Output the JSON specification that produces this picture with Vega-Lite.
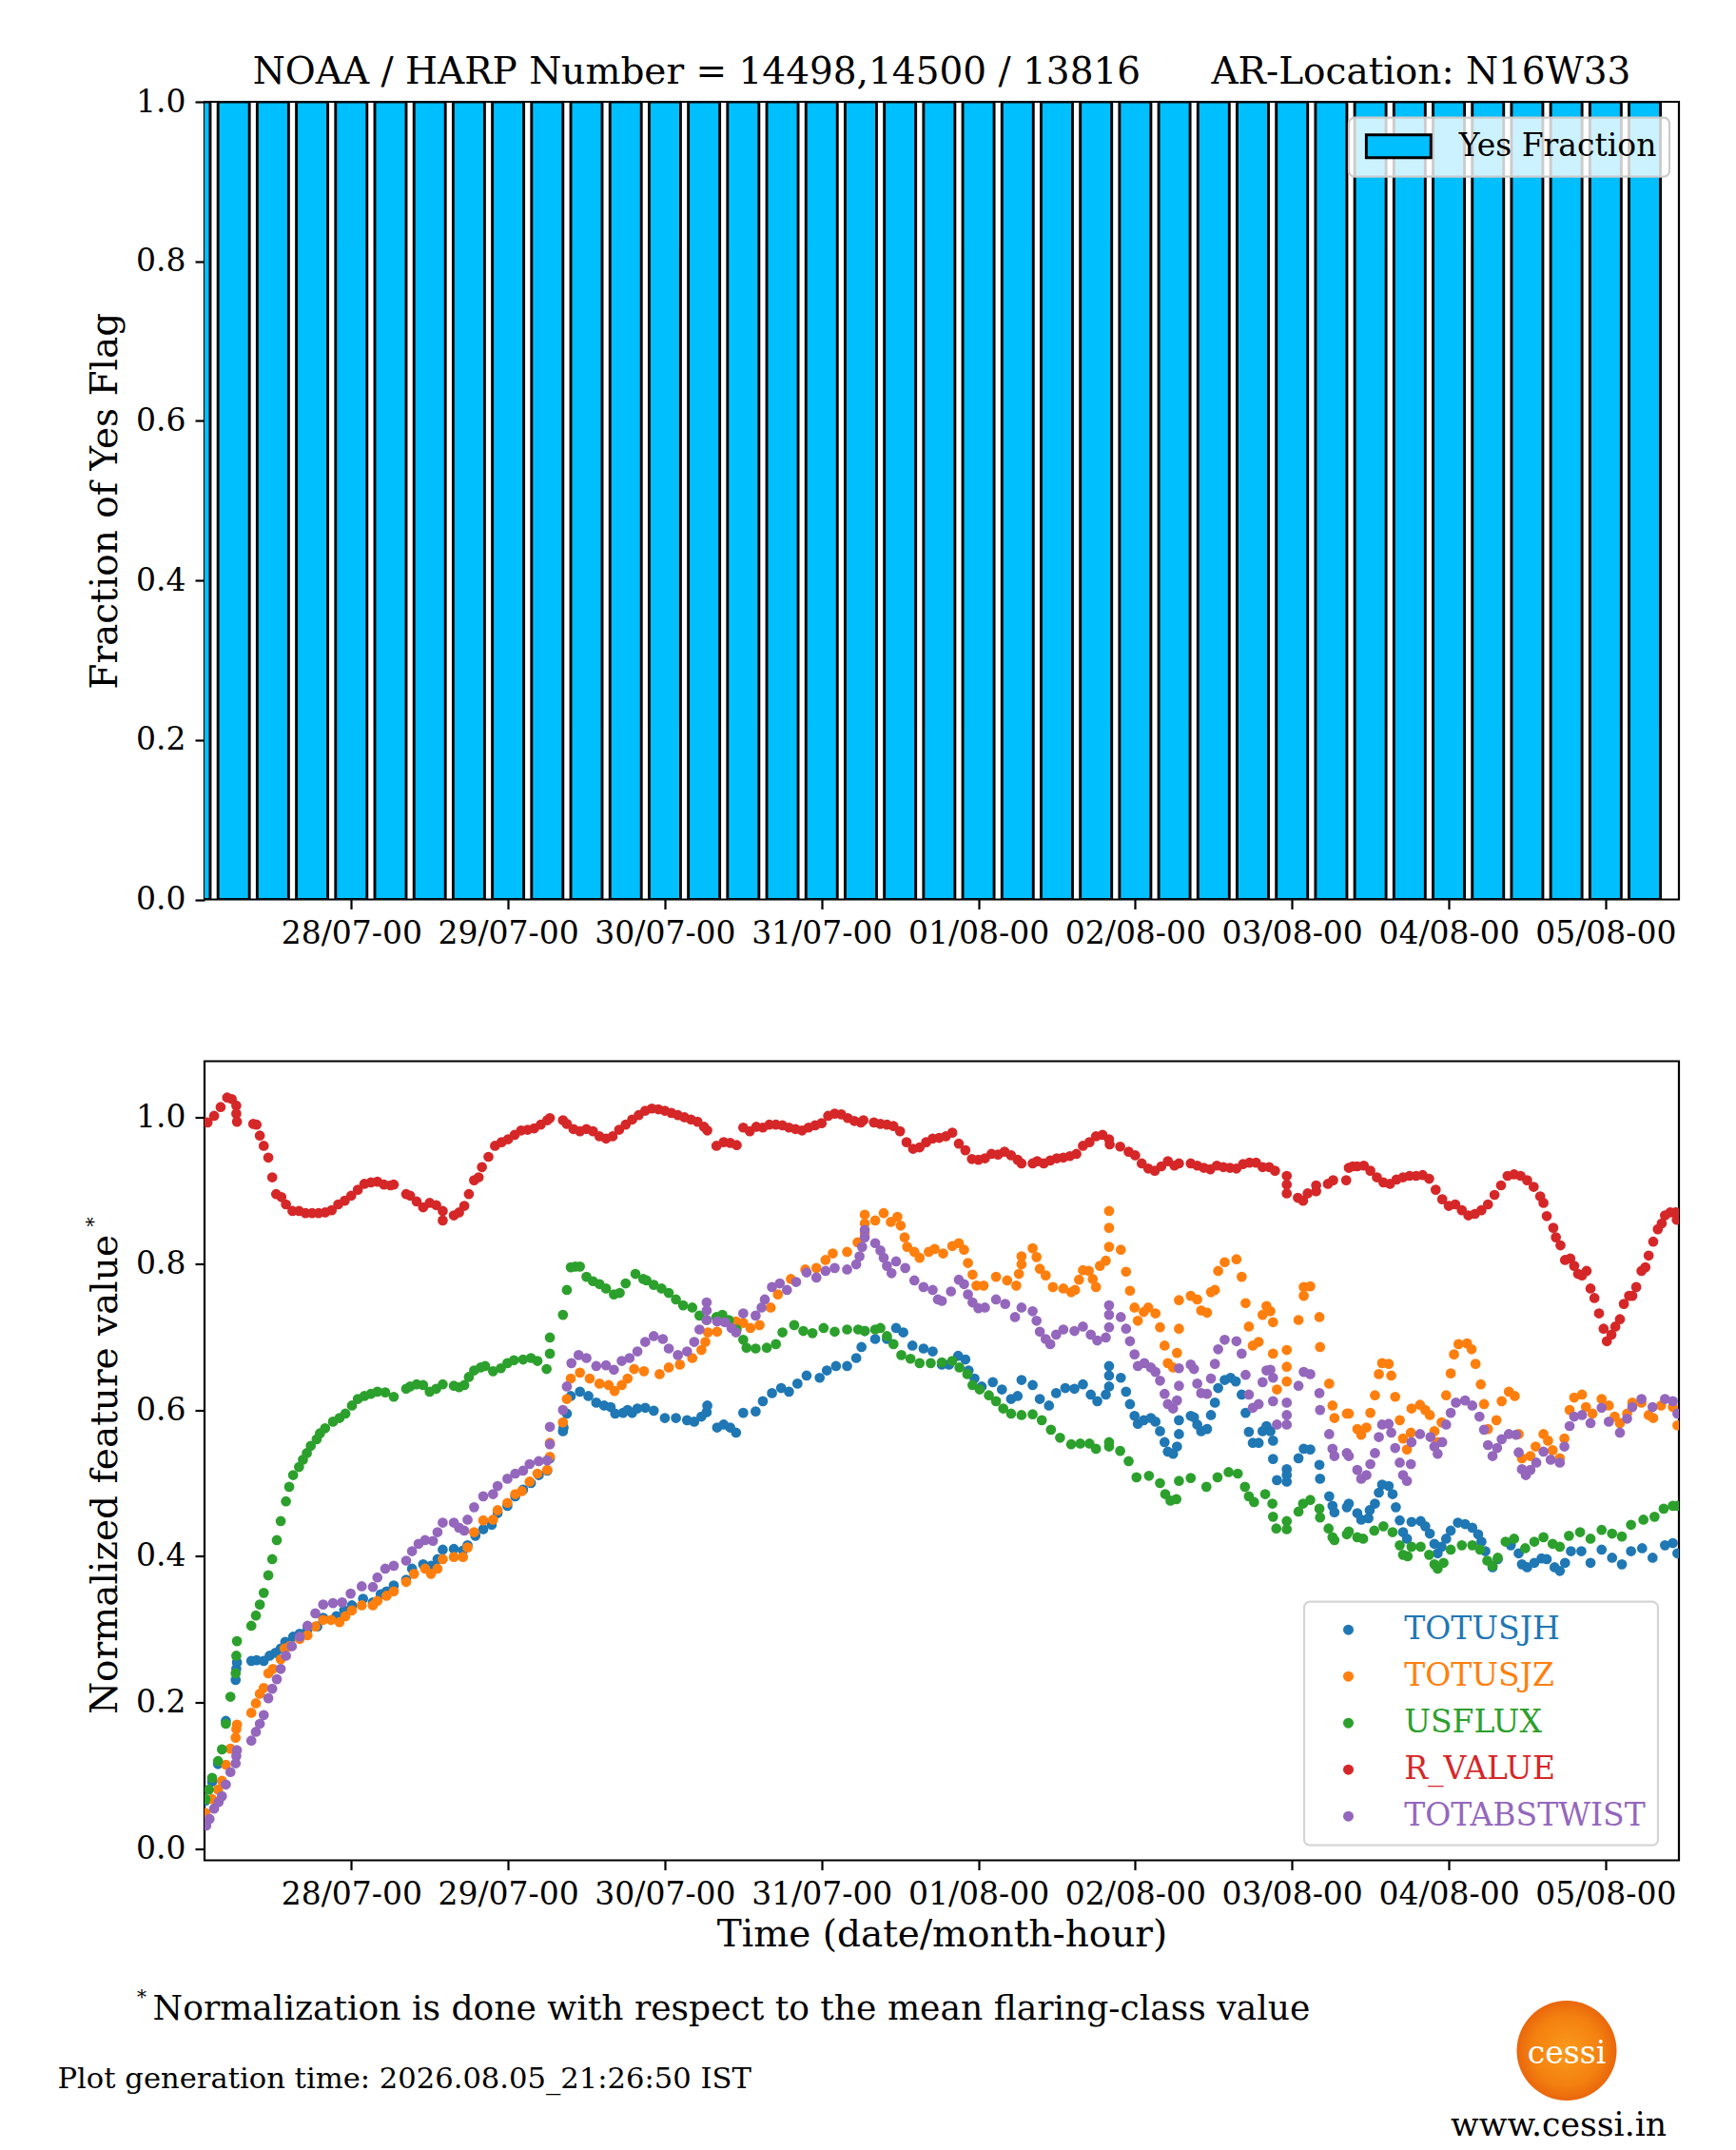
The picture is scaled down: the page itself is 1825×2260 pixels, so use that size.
{
"$schema":"https://vega.github.io/schema/vega-lite/v6.json",
"description":"Yes-flag fraction and normalized SHARP features for NOAA 14498,14500",
"padding":{"left":60,"top":55,"right":0,"bottom":0},
"spacing":169.5,
"bounds":"flush",
"config":{
"font":"DejaVu Serif",
"view":{"stroke":"#000","strokeWidth":2.2},
"axis":{"grid":false,"domain":false,"labelFont":"DejaVu Serif","titleFont":"DejaVu Serif","labelFontSize":33,"titleFontSize":39,"titleFontWeight":"normal","labelColor":"#000","titleColor":"#000","tickColor":"#000","tickSize":10,"tickWidth":2.2,"labelPadding":10},
"legend":{"labelFont":"DejaVu Serif","labelFontSize":33,"labelLimit":500,"labelColor":"#000","strokeWidth":2.2}
},
"datasets":{
"bars":[{"t":"2607270000","f":1},{"t":"2607270600","f":1},{"t":"2607271200","f":1},{"t":"2607271800","f":1},{"t":"2607280000","f":1},{"t":"2607280600","f":1},{"t":"2607281200","f":1},{"t":"2607281800","f":1},{"t":"2607290000","f":1},{"t":"2607290600","f":1},{"t":"2607291200","f":1},{"t":"2607291800","f":1},{"t":"2607300000","f":1},{"t":"2607300600","f":1},{"t":"2607301200","f":1},{"t":"2607301800","f":1},{"t":"2607310000","f":1},{"t":"2607310600","f":1},{"t":"2607311200","f":1},{"t":"2607311800","f":1},{"t":"2608010000","f":1},{"t":"2608010600","f":1},{"t":"2608011200","f":1},{"t":"2608011800","f":1},{"t":"2608020000","f":1},{"t":"2608020600","f":1},{"t":"2608021200","f":1},{"t":"2608021800","f":1},{"t":"2608030000","f":1},{"t":"2608030600","f":1},{"t":"2608031200","f":1},{"t":"2608031800","f":1},{"t":"2608040000","f":1},{"t":"2608040600","f":1},{"t":"2608041200","f":1},{"t":"2608041800","f":1},{"t":"2608050000","f":1},{"t":"2608050600","f":1}],
"jh":[{"t":"2607270142","v":0.066},{"t":"2607270242","v":0.092},{"t":"2607270336","v":0.116},{"t":"2607270448","v":0.175},{"t":"2607270618","v":0.231},{"t":"2607270624","v":0.246},{"t":"2607270630","v":0.255},
{"t":"2607270842","v":0.257},{"t":"2607270930","v":0.258},{"t":"2607271036","v":0.257},{"t":"2607271130","v":0.264},{"t":"2607271224","v":0.268},{"t":"2607271312","v":0.274},{"t":"2607271354","v":0.283},{"t":"2607271506","v":0.29},{"t":"2607271606","v":0.294},{"t":"2607271718","v":0.3},{"t":"2607271848","v":0.304},{"t":"2607271942","v":0.316},{"t":"2607272142","v":0.318},{"t":"2607272254","v":0.326},{"t":"2607280006","v":0.333},{"t":"2607280148","v":0.342},{"t":"2607280318","v":0.337},{"t":"2607280430","v":0.348},{"t":"2607280524","v":0.352},{"t":"2607280630","v":0.36},
{"t":"2607280824","v":0.368},{"t":"2607280918","v":0.383},{"t":"2607281100","v":0.389},{"t":"2607281212","v":0.387},{"t":"2607281312","v":0.396},{"t":"2607281400","v":0.409},
{"t":"2607281542","v":0.41},{"t":"2607281706","v":0.408},{"t":"2607281748","v":0.415},{"t":"2607281900","v":0.428},{"t":"2607282012","v":0.437},{"t":"2607282130","v":0.443},{"t":"2607282224","v":0.459},{"t":"2607282354","v":0.469},{"t":"2607290106","v":0.482},{"t":"2607290218","v":0.491},{"t":"2607290330","v":0.5},{"t":"2607290442","v":0.511},{"t":"2607290600","v":0.517},{"t":"2607290624","v":0.534},
{"t":"2607290824","v":0.571},{"t":"2607290830","v":0.576},{"t":"2607290900","v":0.595},{"t":"2607290936","v":0.619},{"t":"2607291100","v":0.625},{"t":"2607291218","v":0.619},{"t":"2607291330","v":0.61},{"t":"2607291442","v":0.606},{"t":"2607291542","v":0.604},{"t":"2607291624","v":0.595},{"t":"2607291736","v":0.596},{"t":"2607291818","v":0.6},{"t":"2607291900","v":0.596},{"t":"2607291948","v":0.602},{"t":"2607292100","v":0.603},{"t":"2607292218","v":0.599},{"t":"2607300000","v":0.589},{"t":"2607300142","v":0.589},{"t":"2607300324","v":0.586},{"t":"2607300430","v":0.584},{"t":"2607300536","v":0.591},{"t":"2607300624","v":0.597},{"t":"2607300630","v":0.606},
{"t":"2607300800","v":0.576},{"t":"2607300900","v":0.58},{"t":"2607301000","v":0.576},{"t":"2607301054","v":0.569},
{"t":"2607301200","v":0.596},{"t":"2607301354","v":0.598},{"t":"2607301500","v":0.612},{"t":"2607301624","v":0.623},{"t":"2607301748","v":0.63},{"t":"2607301900","v":0.625},{"t":"2607302018","v":0.636},{"t":"2607302142","v":0.647},{"t":"2607302342","v":0.644},{"t":"2607310048","v":0.654},{"t":"2607310212","v":0.66},{"t":"2607310354","v":0.66},{"t":"2607310518","v":0.671},{"t":"2607310606","v":0.686},{"t":"2607310636","v":0.708},
{"t":"2607310812","v":0.697},{"t":"2607311000","v":0.697},{"t":"2607311124","v":0.712},{"t":"2607311230","v":0.706},{"t":"2607311354","v":0.688},{"t":"2607311536","v":0.684},{"t":"2607311700","v":0.68},{"t":"2607311824","v":0.662},{"t":"2607311930","v":0.662},{"t":"2607312054","v":0.674},{"t":"2607312200","v":0.669},{"t":"2607312230","v":0.654},{"t":"2607312324","v":0.643},{"t":"2608010030","v":0.632},{"t":"2608010212","v":0.638},{"t":"2608010336","v":0.628},{"t":"2608010500","v":0.615},{"t":"2608010600","v":0.619},{"t":"2608010636","v":0.641},
{"t":"2608010818","v":0.634},{"t":"2608010924","v":0.615},{"t":"2608011048","v":0.606},{"t":"2608011154","v":0.623},{"t":"2608011318","v":0.63},{"t":"2608011442","v":0.629},{"t":"2608011600","v":0.635},{"t":"2608011712","v":0.621},{"t":"2608011812","v":0.612},{"t":"2608011930","v":0.621},{"t":"2608012000","v":0.632},{"t":"2608012000","v":0.647},{"t":"2608012000","v":0.66},
{"t":"2608012148","v":0.644},{"t":"2608012236","v":0.625},{"t":"2608012312","v":0.608},{"t":"2608012354","v":0.592},{"t":"2608020024","v":0.581},{"t":"2608020118","v":0.586},{"t":"2608020224","v":0.589},{"t":"2608020306","v":0.584},{"t":"2608020348","v":0.571},{"t":"2608020430","v":0.556},{"t":"2608020500","v":0.543},{"t":"2608020548","v":0.54},{"t":"2608020624","v":0.55},{"t":"2608020642","v":0.567},{"t":"2608020642","v":0.586},
{"t":"2608020830","v":0.592},{"t":"2608020900","v":0.59},{"t":"2608020930","v":0.58},{"t":"2608021006","v":0.571},{"t":"2608021100","v":0.574},{"t":"2608021136","v":0.593},{"t":"2608021212","v":0.61},{"t":"2608021242","v":0.63},{"t":"2608021342","v":0.641},{"t":"2608021436","v":0.644},{"t":"2608021524","v":0.639},{"t":"2608021618","v":0.621},{"t":"2608021654","v":0.596},{"t":"2608021724","v":0.57},{"t":"2608021800","v":0.555},{"t":"2608021854","v":0.555},{"t":"2608021930","v":0.571},{"t":"2608022006","v":0.578},{"t":"2608022042","v":0.571},{"t":"2608022106","v":0.558},{"t":"2608022106","v":0.533},{"t":"2608022142","v":0.504},
{"t":"2608022312","v":0.519},{"t":"2608022312","v":0.511},{"t":"2608022312","v":0.502},
{"t":"2608030100","v":0.534},{"t":"2608030148","v":0.547},{"t":"2608030248","v":0.546},{"t":"2608030412","v":0.525},{"t":"2608030418","v":0.506},{"t":"2608030542","v":0.482},{"t":"2608030612","v":0.469},{"t":"2608030630","v":0.46},
{"t":"2608030824","v":0.467},{"t":"2608030842","v":0.472},{"t":"2608031000","v":0.459},{"t":"2608031036","v":0.45},{"t":"2608031142","v":0.452},{"t":"2608031154","v":0.463},{"t":"2608031242","v":0.472},{"t":"2608031318","v":0.487},{"t":"2608031348","v":0.498},{"t":"2608031448","v":0.496},{"t":"2608031524","v":0.485},{"t":"2608031554","v":0.467},{"t":"2608031630","v":0.449},{"t":"2608031700","v":0.433},{"t":"2608031736","v":0.424},{"t":"2608031818","v":0.447},{"t":"2608031942","v":0.448},{"t":"2608032024","v":0.441},{"t":"2608032106","v":0.431},{"t":"2608032148","v":0.417},{"t":"2608032218","v":0.404},{"t":"2608032254","v":0.413},{"t":"2608032336","v":0.424},{"t":"2608040018","v":0.435},{"t":"2608040124","v":0.446},{"t":"2608040230","v":0.444},{"t":"2608040336","v":0.439},{"t":"2608040430","v":0.43},{"t":"2608040500","v":0.42},{"t":"2608040536","v":0.407},{"t":"2608040642","v":0.385},{"t":"2608040730","v":0.396},{"t":"2608040930","v":0.415},{"t":"2608041042","v":0.404},{"t":"2608041112","v":0.389},{"t":"2608041200","v":0.385},{"t":"2608041306","v":0.391},{"t":"2608041412","v":0.397},{"t":"2608041500","v":0.396},{"t":"2608041612","v":0.385},{"t":"2608041700","v":0.38},{"t":"2608041748","v":0.391},{"t":"2608041842","v":0.407},{"t":"2608042018","v":0.407},{"t":"2608042142","v":0.391},{"t":"2608042324","v":0.409},{"t":"2608050100","v":0.398},{"t":"2608050230","v":0.389},{"t":"2608050354","v":0.407},{"t":"2608050536","v":0.411},{"t":"2608050712","v":0.398},{"t":"2608050906","v":0.415},{"t":"2608051018","v":0.418},{"t":"2608051100","v":0.404}],
"jz":[{"t":"2607270142","v":0.049},{"t":"2607270242","v":0.068},{"t":"2607270336","v":0.081},{"t":"2607270412","v":0.093},{"t":"2607270448","v":0.115},{"t":"2607270530","v":0.137},{"t":"2607270618","v":0.152},{"t":"2607270624","v":0.164},{"t":"2607270630","v":0.17},
{"t":"2607270842","v":0.186},{"t":"2607270924","v":0.199},{"t":"2607271000","v":0.212},{"t":"2607271036","v":0.22},{"t":"2607271118","v":0.24},{"t":"2607271200","v":0.246},{"t":"2607271312","v":0.259},{"t":"2607271348","v":0.274},{"t":"2607271436","v":0.277},{"t":"2607271606","v":0.287},{"t":"2607271718","v":0.292},{"t":"2607271830","v":0.304},{"t":"2607271942","v":0.313},{"t":"2607272054","v":0.313},{"t":"2607272212","v":0.31},{"t":"2607272306","v":0.318},{"t":"2607280006","v":0.326},{"t":"2607280136","v":0.333},{"t":"2607280318","v":0.333},{"t":"2607280400","v":0.339},{"t":"2607280524","v":0.346},{"t":"2607280630","v":0.352},
{"t":"2607280824","v":0.365},{"t":"2607280936","v":0.376},{"t":"2607281118","v":0.383},{"t":"2607281212","v":0.376},{"t":"2607281312","v":0.383},{"t":"2607281400","v":0.396},
{"t":"2607281542","v":0.399},{"t":"2607281706","v":0.399},{"t":"2607281748","v":0.412},{"t":"2607281848","v":0.433},{"t":"2607282012","v":0.449},{"t":"2607282142","v":0.45},{"t":"2607282224","v":0.463},{"t":"2607282354","v":0.473},{"t":"2607290106","v":0.485},{"t":"2607290206","v":0.489},{"t":"2607290318","v":0.502},{"t":"2607290430","v":0.513},{"t":"2607290600","v":0.518},{"t":"2607290624","v":0.536},{"t":"2607290624","v":0.555},
{"t":"2607290824","v":0.583},{"t":"2607290900","v":0.615},{"t":"2607290936","v":0.643},{"t":"2607291100","v":0.651},{"t":"2607291230","v":0.643},{"t":"2607291400","v":0.636},{"t":"2607291524","v":0.634},{"t":"2607291618","v":0.626},{"t":"2607291724","v":0.634},{"t":"2607291818","v":0.643},{"t":"2607291918","v":0.656},{"t":"2607292048","v":0.653},{"t":"2607292312","v":0.649},{"t":"2607300036","v":0.658},{"t":"2607300218","v":0.662},{"t":"2607300412","v":0.671},{"t":"2607300536","v":0.682},{"t":"2607300612","v":0.693},{"t":"2607300636","v":0.706},
{"t":"2607300800","v":0.707},{"t":"2607300900","v":0.721},{"t":"2607301054","v":0.721},
{"t":"2607301200","v":0.719},{"t":"2607301306","v":0.712},{"t":"2607301430","v":0.716},{"t":"2607301612","v":0.74},{"t":"2607301718","v":0.758},{"t":"2607301918","v":0.779},{"t":"2607302130","v":0.792},{"t":"2607302312","v":0.794},{"t":"2607310036","v":0.805},{"t":"2607310142","v":0.814},{"t":"2607310354","v":0.816},{"t":"2607310530","v":0.829},{"t":"2607310636","v":0.842},{"t":"2607310636","v":0.855},{"t":"2607310636","v":0.867},
{"t":"2607310812","v":0.859},{"t":"2607310930","v":0.869},{"t":"2607311036","v":0.857},{"t":"2607311136","v":0.864},{"t":"2607311206","v":0.852},{"t":"2607311242","v":0.836},{"t":"2607311306","v":0.823},{"t":"2607311412","v":0.816},{"t":"2607311500","v":0.808},{"t":"2607311624","v":0.816},{"t":"2607311718","v":0.82},{"t":"2607311836","v":0.814},{"t":"2607312000","v":0.824},{"t":"2607312100","v":0.828},{"t":"2607312148","v":0.819},{"t":"2607312224","v":0.801},{"t":"2607312306","v":0.785},{"t":"2607312342","v":0.77},{"t":"2608010048","v":0.77},{"t":"2608010242","v":0.782},{"t":"2608010424","v":0.777},{"t":"2608010548","v":0.77},{"t":"2608010612","v":0.786},{"t":"2608010636","v":0.799},{"t":"2608010636","v":0.81},
{"t":"2608010818","v":0.821},{"t":"2608010854","v":0.809},{"t":"2608010924","v":0.793},{"t":"2608011018","v":0.784},{"t":"2608011124","v":0.768},{"t":"2608011300","v":0.766},{"t":"2608011412","v":0.761},{"t":"2608011448","v":0.764},{"t":"2608011524","v":0.778},{"t":"2608011600","v":0.791},{"t":"2608011654","v":0.79},{"t":"2608011730","v":0.779},{"t":"2608011800","v":0.768},{"t":"2608011836","v":0.797},{"t":"2608011930","v":0.804},{"t":"2608012000","v":0.823},{"t":"2608012000","v":0.849},{"t":"2608012000","v":0.872},
{"t":"2608012148","v":0.819},{"t":"2608012236","v":0.789},{"t":"2608012312","v":0.763},{"t":"2608012354","v":0.74},{"t":"2608020024","v":0.722},{"t":"2608020118","v":0.734},{"t":"2608020200","v":0.74},{"t":"2608020306","v":0.732},{"t":"2608020348","v":0.713},{"t":"2608020430","v":0.688},{"t":"2608020500","v":0.664},{"t":"2608020548","v":0.658},{"t":"2608020624","v":0.678},{"t":"2608020642","v":0.711},{"t":"2608020642","v":0.75},
{"t":"2608020830","v":0.756},{"t":"2608020930","v":0.751},{"t":"2608021006","v":0.736},{"t":"2608021100","v":0.733},{"t":"2608021136","v":0.761},{"t":"2608021212","v":0.764},{"t":"2608021242","v":0.79},{"t":"2608021342","v":0.802},{"t":"2608021530","v":0.806},{"t":"2608021618","v":0.782},{"t":"2608021654","v":0.746},{"t":"2608021724","v":0.714},{"t":"2608021800","v":0.688},{"t":"2608021854","v":0.693},{"t":"2608021930","v":0.73},{"t":"2608022006","v":0.742},{"t":"2608022042","v":0.735},{"t":"2608022106","v":0.72},{"t":"2608022106","v":0.677},{"t":"2608022142","v":0.628},
{"t":"2608022312","v":0.682},{"t":"2608022312","v":0.659},{"t":"2608022312","v":0.639},
{"t":"2608030100","v":0.723},{"t":"2608030148","v":0.756},{"t":"2608030148","v":0.768},{"t":"2608030248","v":0.769},{"t":"2608030412","v":0.727},{"t":"2608030418","v":0.686},{"t":"2608030542","v":0.636},{"t":"2608030612","v":0.606},{"t":"2608030630","v":0.589},
{"t":"2608030824","v":0.595},{"t":"2608030842","v":0.595},{"t":"2608031000","v":0.574},{"t":"2608031036","v":0.566},{"t":"2608031124","v":0.576},{"t":"2608031200","v":0.596},{"t":"2608031242","v":0.62},{"t":"2608031318","v":0.649},{"t":"2608031348","v":0.664},{"t":"2608031448","v":0.663},{"t":"2608031512","v":0.647},{"t":"2608031548","v":0.618},{"t":"2608031630","v":0.586},{"t":"2608031700","v":0.561},{"t":"2608031736","v":0.546},{"t":"2608031812","v":0.569},{"t":"2608031818","v":0.602},{"t":"2608031936","v":0.607},{"t":"2608032024","v":0.6},{"t":"2608032106","v":0.593},{"t":"2608032148","v":0.571},{"t":"2608032218","v":0.556},{"t":"2608032254","v":0.583},{"t":"2608032336","v":0.62},{"t":"2608040018","v":0.65},{"t":"2608040048","v":0.676},{"t":"2608040130","v":0.69},{"t":"2608040248","v":0.691},{"t":"2608040330","v":0.683},{"t":"2608040406","v":0.663},{"t":"2608040454","v":0.635},{"t":"2608040524","v":0.608},{"t":"2608040600","v":0.574},{"t":"2608040718","v":0.586},{"t":"2608040806","v":0.612},{"t":"2608040912","v":0.625},{"t":"2608041006","v":0.619},{"t":"2608041042","v":0.567},{"t":"2608041112","v":0.534},{"t":"2608041230","v":0.537},{"t":"2608041318","v":0.55},{"t":"2608041430","v":0.567},{"t":"2608041512","v":0.558},{"t":"2608041554","v":0.545},{"t":"2608041700","v":0.534},{"t":"2608041742","v":0.561},{"t":"2608041830","v":0.6},{"t":"2608041912","v":0.617},{"t":"2608042024","v":0.621},{"t":"2608042100","v":0.604},{"t":"2608042200","v":0.595},{"t":"2608042324","v":0.615},{"t":"2608050030","v":0.606},{"t":"2608050124","v":0.591},{"t":"2608050212","v":0.582},{"t":"2608050318","v":0.595},{"t":"2608050406","v":0.61},{"t":"2608050530","v":0.61},{"t":"2608050636","v":0.593},{"t":"2608050718","v":0.589},{"t":"2608050830","v":0.606},{"t":"2608051018","v":0.604},{"t":"2608051100","v":0.579}],
"flux":[{"t":"2607270142","v":0.068},{"t":"2607270212","v":0.081},{"t":"2607270242","v":0.097},{"t":"2607270336","v":0.12},{"t":"2607270412","v":0.136},{"t":"2607270448","v":0.171},{"t":"2607270530","v":0.208},{"t":"2607270618","v":0.24},{"t":"2607270624","v":0.264},{"t":"2607270630","v":0.284},
{"t":"2607270842","v":0.305},{"t":"2607270924","v":0.319},{"t":"2607271000","v":0.334},{"t":"2607271036","v":0.35},{"t":"2607271118","v":0.374},{"t":"2607271154","v":0.396},{"t":"2607271236","v":0.422},{"t":"2607271312","v":0.448},{"t":"2607271400","v":0.475},{"t":"2607271430","v":0.495},{"t":"2607271506","v":0.511},{"t":"2607271600","v":0.522},{"t":"2607271636","v":0.532},{"t":"2607271712","v":0.541},{"t":"2607271748","v":0.551},{"t":"2607271842","v":0.56},{"t":"2607271912","v":0.568},{"t":"2607272000","v":0.575},{"t":"2607272112","v":0.584},{"t":"2607272212","v":0.589},{"t":"2607272306","v":0.595},{"t":"2607280006","v":0.606},{"t":"2607280100","v":0.615},{"t":"2607280200","v":0.619},{"t":"2607280300","v":0.622},{"t":"2607280400","v":0.625},{"t":"2607280512","v":0.624},{"t":"2607280630","v":0.618},
{"t":"2607280824","v":0.629},{"t":"2607280900","v":0.632},{"t":"2607281000","v":0.635},{"t":"2607281100","v":0.634},{"t":"2607281200","v":0.625},{"t":"2607281300","v":0.629},{"t":"2607281400","v":0.635},
{"t":"2607281542","v":0.633},{"t":"2607281630","v":0.631},{"t":"2607281718","v":0.634},{"t":"2607281800","v":0.645},{"t":"2607281848","v":0.654},{"t":"2607281948","v":0.658},{"t":"2607282030","v":0.66},{"t":"2607282142","v":0.653},{"t":"2607282254","v":0.657},{"t":"2607282354","v":0.664},{"t":"2607290054","v":0.668},{"t":"2607290218","v":0.669},{"t":"2607290330","v":0.671},{"t":"2607290430","v":0.667},{"t":"2607290554","v":0.656},{"t":"2607290624","v":0.677},{"t":"2607290624","v":0.699},
{"t":"2607290824","v":0.73},{"t":"2607290900","v":0.764},{"t":"2607290936","v":0.795},{"t":"2607291018","v":0.796},{"t":"2607291100","v":0.796},{"t":"2607291200","v":0.782},{"t":"2607291300","v":0.776},{"t":"2607291400","v":0.772},{"t":"2607291500","v":0.766},{"t":"2607291612","v":0.758},{"t":"2607291706","v":0.76},{"t":"2607291800","v":0.773},{"t":"2607291930","v":0.786},{"t":"2607292042","v":0.779},{"t":"2607292112","v":0.777},{"t":"2607292218","v":0.771},{"t":"2607292330","v":0.766},{"t":"2607300036","v":0.76},{"t":"2607300142","v":0.751},{"t":"2607300248","v":0.743},{"t":"2607300412","v":0.74},{"t":"2607300518","v":0.729},{"t":"2607300624","v":0.723},
{"t":"2607300754","v":0.727},{"t":"2607300848","v":0.73},{"t":"2607300948","v":0.723},{"t":"2607301100","v":0.71},
{"t":"2607301200","v":0.696},{"t":"2607301230","v":0.685},{"t":"2607301354","v":0.684},{"t":"2607301536","v":0.685},{"t":"2607301700","v":0.69},{"t":"2607301800","v":0.706},{"t":"2607301948","v":0.716},{"t":"2607302112","v":0.708},{"t":"2607302236","v":0.705},{"t":"2607310018","v":0.712},{"t":"2607310200","v":0.707},{"t":"2607310354","v":0.71},{"t":"2607310536","v":0.71},{"t":"2607310636","v":0.708},
{"t":"2607310812","v":0.71},{"t":"2607310900","v":0.712},{"t":"2607311000","v":0.701},{"t":"2607311100","v":0.69},{"t":"2607311212","v":0.675},{"t":"2607311336","v":0.67},{"t":"2607311500","v":0.664},{"t":"2607311642","v":0.664},{"t":"2607311824","v":0.665},{"t":"2607312000","v":0.667},{"t":"2607312106","v":0.658},{"t":"2607312218","v":0.649},{"t":"2607312306","v":0.634},{"t":"2608010012","v":0.628},{"t":"2608010136","v":0.62},{"t":"2608010242","v":0.612},{"t":"2608010348","v":0.602},{"t":"2608010500","v":0.595},{"t":"2608010636","v":0.593},
{"t":"2608010818","v":0.594},{"t":"2608010942","v":0.586},{"t":"2608011106","v":0.573},{"t":"2608011230","v":0.562},{"t":"2608011412","v":0.553},{"t":"2608011536","v":0.554},{"t":"2608011700","v":0.554},{"t":"2608011800","v":0.547},{"t":"2608012000","v":0.55},{"t":"2608012000","v":0.556},
{"t":"2608012142","v":0.544},{"t":"2608012300","v":0.53},{"t":"2608020012","v":0.508},{"t":"2608020206","v":0.51},{"t":"2608020348","v":0.5},{"t":"2608020436","v":0.485},{"t":"2608020524","v":0.476},{"t":"2608020618","v":0.478},{"t":"2608020642","v":0.503},
{"t":"2608020830","v":0.507},{"t":"2608021054","v":0.495},{"t":"2608021236","v":0.508},{"t":"2608021418","v":0.515},{"t":"2608021542","v":0.513},{"t":"2608021648","v":0.495},{"t":"2608021724","v":0.482},{"t":"2608021812","v":0.474},{"t":"2608021954","v":0.485},{"t":"2608022100","v":0.472},{"t":"2608022106","v":0.454},{"t":"2608022136","v":0.438},
{"t":"2608022312","v":0.448},{"t":"2608022312","v":0.437},
{"t":"2608030100","v":0.461},{"t":"2608030142","v":0.472},{"t":"2608030248","v":0.477},{"t":"2608030412","v":0.465},{"t":"2608030418","v":0.453},{"t":"2608030536","v":0.438},{"t":"2608030612","v":0.426},{"t":"2608030630","v":0.422},
{"t":"2608030824","v":0.43},{"t":"2608030842","v":0.434},{"t":"2608031000","v":0.426},{"t":"2608031054","v":0.424},{"t":"2608031236","v":0.435},{"t":"2608031400","v":0.441},{"t":"2608031524","v":0.433},{"t":"2608031630","v":0.415},{"t":"2608031700","v":0.402},{"t":"2608031742","v":0.4},{"t":"2608031818","v":0.413},{"t":"2608031942","v":0.413},{"t":"2608032100","v":0.402},{"t":"2608032148","v":0.389},{"t":"2608032218","v":0.383},{"t":"2608032312","v":0.391},{"t":"2608040018","v":0.409},{"t":"2608040200","v":0.415},{"t":"2608040336","v":0.415},{"t":"2608040448","v":0.409},{"t":"2608040554","v":0.394},{"t":"2608040642","v":0.387},{"t":"2608040730","v":0.398},{"t":"2608040842","v":0.42},{"t":"2608041000","v":0.424},{"t":"2608041142","v":0.411},{"t":"2608041306","v":0.42},{"t":"2608041430","v":0.426},{"t":"2608041554","v":0.417},{"t":"2608041700","v":0.413},{"t":"2608041824","v":0.428},{"t":"2608042006","v":0.433},{"t":"2608042142","v":0.424},{"t":"2608042324","v":0.436},{"t":"2608050100","v":0.431},{"t":"2608050230","v":0.427},{"t":"2608050354","v":0.443},{"t":"2608050548","v":0.45},{"t":"2608050730","v":0.454},{"t":"2608050854","v":0.465},{"t":"2608051018","v":0.469},{"t":"2608051100","v":0.469}],
"rval":[{"t":"2607270200","v":0.993},{"t":"2607270300","v":1.002},{"t":"2607270400","v":1.014},{"t":"2607270500","v":1.027},{"t":"2607270542","v":1.025},{"t":"2607270624","v":1.016},{"t":"2607270624","v":1.005},{"t":"2607270630","v":0.994},
{"t":"2607270900","v":0.991},{"t":"2607270930","v":0.99},{"t":"2607271000","v":0.975},{"t":"2607271036","v":0.961},{"t":"2607271118","v":0.945},{"t":"2607271154","v":0.918},{"t":"2607271230","v":0.895},{"t":"2607271318","v":0.891},{"t":"2607271400","v":0.881},{"t":"2607271500","v":0.872},{"t":"2607271600","v":0.872},{"t":"2607271700","v":0.869},{"t":"2607271800","v":0.869},{"t":"2607271900","v":0.869},{"t":"2607272000","v":0.87},{"t":"2607272100","v":0.873},{"t":"2607272200","v":0.881},{"t":"2607272300","v":0.886},{"t":"2607280000","v":0.893},{"t":"2607280100","v":0.901},{"t":"2607280200","v":0.909},{"t":"2607280300","v":0.911},{"t":"2607280400","v":0.912},{"t":"2607280500","v":0.908},{"t":"2607280600","v":0.907},{"t":"2607280630","v":0.908},
{"t":"2607280824","v":0.895},{"t":"2607280900","v":0.893},{"t":"2607281000","v":0.885},{"t":"2607281100","v":0.877},{"t":"2607281200","v":0.883},{"t":"2607281300","v":0.88},{"t":"2607281400","v":0.872},{"t":"2607281400","v":0.859},
{"t":"2607281542","v":0.866},{"t":"2607281630","v":0.87},{"t":"2607281718","v":0.879},{"t":"2607281800","v":0.895},{"t":"2607281848","v":0.914},{"t":"2607281930","v":0.918},{"t":"2607282000","v":0.932},{"t":"2607282100","v":0.946},{"t":"2607282200","v":0.961},{"t":"2607282300","v":0.966},{"t":"2607290000","v":0.97},{"t":"2607290100","v":0.976},{"t":"2607290200","v":0.982},{"t":"2607290300","v":0.983},{"t":"2607290400","v":0.985},{"t":"2607290500","v":0.99},{"t":"2607290600","v":0.996},{"t":"2607290624","v":0.999},
{"t":"2607290824","v":0.996},{"t":"2607290900","v":0.991},{"t":"2607291000","v":0.984},{"t":"2607291100","v":0.981},{"t":"2607291200","v":0.984},{"t":"2607291300","v":0.981},{"t":"2607291400","v":0.974},{"t":"2607291500","v":0.971},{"t":"2607291600","v":0.974},{"t":"2607291700","v":0.983},{"t":"2607291800","v":0.99},{"t":"2607291900","v":0.997},{"t":"2607292000","v":1.003},{"t":"2607292100","v":1.009},{"t":"2607292200","v":1.012},{"t":"2607292300","v":1.011},{"t":"2607300000","v":1.009},{"t":"2607300100","v":1.006},{"t":"2607300200","v":1.003},{"t":"2607300300","v":1.0},{"t":"2607300400","v":0.997},{"t":"2607300500","v":0.994},{"t":"2607300600","v":0.987},{"t":"2607300630","v":0.982},
{"t":"2607300754","v":0.961},{"t":"2607300900","v":0.966},{"t":"2607301000","v":0.965},{"t":"2607301100","v":0.962},
{"t":"2607301200","v":0.986},{"t":"2607301300","v":0.981},{"t":"2607301400","v":0.987},{"t":"2607301500","v":0.986},{"t":"2607301600","v":0.99},{"t":"2607301700","v":0.99},{"t":"2607301800","v":0.989},{"t":"2607301900","v":0.986},{"t":"2607302000","v":0.984},{"t":"2607302100","v":0.982},{"t":"2607302200","v":0.986},{"t":"2607302300","v":0.989},{"t":"2607310000","v":0.992},{"t":"2607310100","v":1.002},{"t":"2607310200","v":1.005},{"t":"2607310300","v":1.004},{"t":"2607310400","v":0.999},{"t":"2607310500","v":0.995},{"t":"2607310600","v":0.993},{"t":"2607310624","v":0.996},
{"t":"2607310800","v":0.993},{"t":"2607310900","v":0.991},{"t":"2607311000","v":0.99},{"t":"2607311100","v":0.988},{"t":"2607311200","v":0.981},{"t":"2607311300","v":0.966},{"t":"2607311400","v":0.957},{"t":"2607311500","v":0.959},{"t":"2607311600","v":0.966},{"t":"2607311700","v":0.971},{"t":"2607311800","v":0.972},{"t":"2607311900","v":0.974},{"t":"2607312000","v":0.979},{"t":"2607312100","v":0.964},{"t":"2607312200","v":0.955},{"t":"2607312300","v":0.943},{"t":"2608010000","v":0.942},{"t":"2608010100","v":0.944},{"t":"2608010200","v":0.95},{"t":"2608010300","v":0.949},{"t":"2608010400","v":0.953},{"t":"2608010500","v":0.948},{"t":"2608010600","v":0.942},{"t":"2608010636","v":0.937},
{"t":"2608010818","v":0.937},{"t":"2608010900","v":0.94},{"t":"2608011000","v":0.937},{"t":"2608011100","v":0.941},{"t":"2608011200","v":0.944},{"t":"2608011300","v":0.945},{"t":"2608011400","v":0.947},{"t":"2608011500","v":0.95},{"t":"2608011600","v":0.961},{"t":"2608011700","v":0.966},{"t":"2608011800","v":0.974},{"t":"2608011900","v":0.976},{"t":"2608012000","v":0.97},{"t":"2608012006","v":0.963},
{"t":"2608012142","v":0.96},{"t":"2608012300","v":0.953},{"t":"2608020000","v":0.948},{"t":"2608020100","v":0.937},{"t":"2608020200","v":0.93},{"t":"2608020300","v":0.927},{"t":"2608020400","v":0.933},{"t":"2608020500","v":0.94},{"t":"2608020600","v":0.934},{"t":"2608020642","v":0.937},
{"t":"2608020830","v":0.937},{"t":"2608020930","v":0.934},{"t":"2608021030","v":0.931},{"t":"2608021130","v":0.929},{"t":"2608021230","v":0.934},{"t":"2608021330","v":0.932},{"t":"2608021430","v":0.931},{"t":"2608021530","v":0.93},{"t":"2608021630","v":0.936},{"t":"2608021730","v":0.938},{"t":"2608021830","v":0.938},{"t":"2608021930","v":0.932},{"t":"2608022030","v":0.932},{"t":"2608022124","v":0.927},
{"t":"2608022312","v":0.92},{"t":"2608022312","v":0.908},{"t":"2608022312","v":0.896},
{"t":"2608030054","v":0.89},{"t":"2608030142","v":0.886},{"t":"2608030224","v":0.896},{"t":"2608030342","v":0.899},{"t":"2608030342","v":0.907},{"t":"2608030530","v":0.909},{"t":"2608030618","v":0.914},
{"t":"2608030818","v":0.914},{"t":"2608030842","v":0.931},{"t":"2608030918","v":0.933},{"t":"2608031000","v":0.933},{"t":"2608031100","v":0.934},{"t":"2608031200","v":0.927},{"t":"2608031300","v":0.918},{"t":"2608031400","v":0.911},{"t":"2608031500","v":0.909},{"t":"2608031600","v":0.915},{"t":"2608031700","v":0.918},{"t":"2608031800","v":0.92},{"t":"2608031900","v":0.92},{"t":"2608032000","v":0.921},{"t":"2608032100","v":0.916},{"t":"2608032200","v":0.901},{"t":"2608032300","v":0.888},{"t":"2608040000","v":0.879},{"t":"2608040100","v":0.881},{"t":"2608040200","v":0.873},{"t":"2608040300","v":0.866},{"t":"2608040400","v":0.868},{"t":"2608040500","v":0.873},{"t":"2608040600","v":0.881},{"t":"2608040700","v":0.894},{"t":"2608040800","v":0.907},{"t":"2608040900","v":0.92},{"t":"2608041000","v":0.922},{"t":"2608041100","v":0.92},{"t":"2608041200","v":0.914},{"t":"2608041300","v":0.905},{"t":"2608041400","v":0.892},{"t":"2608041430","v":0.883},{"t":"2608041500","v":0.865},{"t":"2608041600","v":0.849},{"t":"2608041624","v":0.836},{"t":"2608041706","v":0.825},{"t":"2608041748","v":0.805},{"t":"2608041836","v":0.807},{"t":"2608041912","v":0.797},{"t":"2608041948","v":0.786},{"t":"2608042024","v":0.784},{"t":"2608042106","v":0.79},{"t":"2608042142","v":0.766},{"t":"2608042218","v":0.753},{"t":"2608042300","v":0.732},{"t":"2608042342","v":0.711},{"t":"2608050012","v":0.694},{"t":"2608050054","v":0.703},{"t":"2608050130","v":0.714},{"t":"2608050212","v":0.724},{"t":"2608050248","v":0.745},{"t":"2608050336","v":0.756},{"t":"2608050406","v":0.756},{"t":"2608050442","v":0.768},{"t":"2608050530","v":0.79},{"t":"2608050606","v":0.795},{"t":"2608050636","v":0.811},{"t":"2608050718","v":0.83},{"t":"2608050800","v":0.847},{"t":"2608050836","v":0.855},{"t":"2608050906","v":0.866},{"t":"2608050954","v":0.87},{"t":"2608051042","v":0.87},{"t":"2608051054","v":0.86}],
"twist":[{"t":"2607270148","v":0.032},{"t":"2607270218","v":0.041},{"t":"2607270300","v":0.055},{"t":"2607270342","v":0.064},{"t":"2607270412","v":0.072},{"t":"2607270448","v":0.088},{"t":"2607270530","v":0.105},{"t":"2607270618","v":0.117},{"t":"2607270624","v":0.127},{"t":"2607270630","v":0.135},
{"t":"2607270842","v":0.148},{"t":"2607270924","v":0.16},{"t":"2607271000","v":0.171},{"t":"2607271036","v":0.183},{"t":"2607271118","v":0.206},{"t":"2607271154","v":0.219},{"t":"2607271236","v":0.232},{"t":"2607271312","v":0.246},{"t":"2607271400","v":0.264},{"t":"2607271454","v":0.277},{"t":"2607271606","v":0.29},{"t":"2607271718","v":0.305},{"t":"2607271830","v":0.322},{"t":"2607271942","v":0.334},{"t":"2607272112","v":0.336},{"t":"2607272236","v":0.337},{"t":"2607272354","v":0.349},{"t":"2607280136","v":0.359},{"t":"2607280318","v":0.358},{"t":"2607280400","v":0.371},{"t":"2607280512","v":0.383},{"t":"2607280630","v":0.387},
{"t":"2607280824","v":0.394},{"t":"2607280918","v":0.407},{"t":"2607281018","v":0.417},{"t":"2607281118","v":0.422},{"t":"2607281230","v":0.421},{"t":"2607281312","v":0.433},{"t":"2607281400","v":0.446},
{"t":"2607281542","v":0.446},{"t":"2607281630","v":0.439},{"t":"2607281718","v":0.435},{"t":"2607281748","v":0.45},{"t":"2607281848","v":0.467},{"t":"2607282012","v":0.482},{"t":"2607282142","v":0.485},{"t":"2607282224","v":0.496},{"t":"2607282354","v":0.506},{"t":"2607290106","v":0.513},{"t":"2607290218","v":0.517},{"t":"2607290318","v":0.526},{"t":"2607290442","v":0.53},{"t":"2607290600","v":0.531},{"t":"2607290624","v":0.553},{"t":"2607290624","v":0.577},
{"t":"2607290824","v":0.6},{"t":"2607290900","v":0.632},{"t":"2607290942","v":0.664},{"t":"2607291048","v":0.675},{"t":"2607291200","v":0.671},{"t":"2607291330","v":0.66},{"t":"2607291500","v":0.661},{"t":"2607291612","v":0.655},{"t":"2607291724","v":0.667},{"t":"2607291836","v":0.671},{"t":"2607291948","v":0.68},{"t":"2607292100","v":0.693},{"t":"2607292218","v":0.701},{"t":"2607292342","v":0.697},{"t":"2607300036","v":0.684},{"t":"2607300200","v":0.675},{"t":"2607300324","v":0.68},{"t":"2607300430","v":0.693},{"t":"2607300518","v":0.71},{"t":"2607300624","v":0.723},{"t":"2607300624","v":0.736},{"t":"2607300624","v":0.747},
{"t":"2607300800","v":0.721},{"t":"2607300912","v":0.72},{"t":"2607301012","v":0.712},{"t":"2607301054","v":0.706},
{"t":"2607301200","v":0.732},{"t":"2607301354","v":0.729},{"t":"2607301448","v":0.74},{"t":"2607301518","v":0.751},{"t":"2607301624","v":0.768},{"t":"2607301736","v":0.773},{"t":"2607301842","v":0.764},{"t":"2607302006","v":0.775},{"t":"2607302142","v":0.788},{"t":"2607302312","v":0.781},{"t":"2607310036","v":0.79},{"t":"2607310200","v":0.794},{"t":"2607310354","v":0.792},{"t":"2607310518","v":0.799},{"t":"2607310548","v":0.81},{"t":"2607310612","v":0.823},{"t":"2607310636","v":0.836},{"t":"2607310636","v":0.846},
{"t":"2607310812","v":0.828},{"t":"2607310900","v":0.818},{"t":"2607310930","v":0.808},{"t":"2607311000","v":0.797},{"t":"2607311042","v":0.787},{"t":"2607311124","v":0.803},{"t":"2607311248","v":0.794},{"t":"2607311412","v":0.777},{"t":"2607311536","v":0.768},{"t":"2607311700","v":0.764},{"t":"2607311748","v":0.751},{"t":"2607311824","v":0.749},{"t":"2607311948","v":0.762},{"t":"2607312100","v":0.778},{"t":"2607312148","v":0.772},{"t":"2607312224","v":0.758},{"t":"2607312306","v":0.747},{"t":"2608010000","v":0.739},{"t":"2608010100","v":0.74},{"t":"2608010242","v":0.751},{"t":"2608010406","v":0.745},{"t":"2608010536","v":0.727},{"t":"2608010636","v":0.74},
{"t":"2608010818","v":0.735},{"t":"2608010854","v":0.722},{"t":"2608010924","v":0.707},{"t":"2608011018","v":0.697},{"t":"2608011100","v":0.69},{"t":"2608011154","v":0.703},{"t":"2608011300","v":0.71},{"t":"2608011442","v":0.708},{"t":"2608011600","v":0.714},{"t":"2608011712","v":0.703},{"t":"2608011812","v":0.695},{"t":"2608011930","v":0.699},{"t":"2608012000","v":0.713},{"t":"2608012000","v":0.73},{"t":"2608012000","v":0.743},
{"t":"2608012148","v":0.727},{"t":"2608012236","v":0.711},{"t":"2608012312","v":0.694},{"t":"2608012354","v":0.676},{"t":"2608020024","v":0.66},{"t":"2608020124","v":0.664},{"t":"2608020224","v":0.658},{"t":"2608020306","v":0.652},{"t":"2608020348","v":0.64},{"t":"2608020430","v":0.622},{"t":"2608020500","v":0.608},{"t":"2608020548","v":0.602},{"t":"2608020624","v":0.613},{"t":"2608020642","v":0.633},{"t":"2608020642","v":0.657},
{"t":"2608020830","v":0.662},{"t":"2608020900","v":0.656},{"t":"2608020930","v":0.636},{"t":"2608021006","v":0.623},{"t":"2608021100","v":0.622},{"t":"2608021136","v":0.643},{"t":"2608021212","v":0.663},{"t":"2608021242","v":0.683},{"t":"2608021342","v":0.696},{"t":"2608021530","v":0.694},{"t":"2608021618","v":0.677},{"t":"2608021654","v":0.648},{"t":"2608021724","v":0.621},{"t":"2608021800","v":0.603},{"t":"2608021854","v":0.608},{"t":"2608021930","v":0.638},{"t":"2608022006","v":0.654},{"t":"2608022042","v":0.655},{"t":"2608022106","v":0.644},{"t":"2608022106","v":0.612},{"t":"2608022142","v":0.58},
{"t":"2608022312","v":0.61},{"t":"2608022312","v":0.593},{"t":"2608022312","v":0.58},
{"t":"2608030100","v":0.633},{"t":"2608030148","v":0.652},{"t":"2608030248","v":0.649},{"t":"2608030412","v":0.623},{"t":"2608030418","v":0.6},{"t":"2608030542","v":0.567},{"t":"2608030612","v":0.547},{"t":"2608030630","v":0.537},
{"t":"2608030824","v":0.541},{"t":"2608030842","v":0.537},{"t":"2608031000","v":0.518},{"t":"2608031036","v":0.506},{"t":"2608031124","v":0.511},{"t":"2608031200","v":0.526},{"t":"2608031242","v":0.541},{"t":"2608031318","v":0.563},{"t":"2608031348","v":0.58},{"t":"2608031448","v":0.581},{"t":"2608031512","v":0.569},{"t":"2608031548","v":0.548},{"t":"2608031630","v":0.528},{"t":"2608031700","v":0.511},{"t":"2608031736","v":0.503},{"t":"2608031812","v":0.526},{"t":"2608031818","v":0.556},{"t":"2608031936","v":0.567},{"t":"2608032112","v":0.563},{"t":"2608032148","v":0.55},{"t":"2608032218","v":0.54},{"t":"2608032300","v":0.556},{"t":"2608032336","v":0.58},{"t":"2608040018","v":0.596},{"t":"2608040106","v":0.61},{"t":"2608040230","v":0.613},{"t":"2608040336","v":0.606},{"t":"2608040442","v":0.591},{"t":"2608040524","v":0.573},{"t":"2608040600","v":0.552},{"t":"2608040642","v":0.537},{"t":"2608040724","v":0.548},{"t":"2608040806","v":0.56},{"t":"2608040912","v":0.567},{"t":"2608041018","v":0.566},{"t":"2608041042","v":0.542},{"t":"2608041112","v":0.519},{"t":"2608041148","v":0.511},{"t":"2608041230","v":0.518},{"t":"2608041324","v":0.528},{"t":"2608041430","v":0.543},{"t":"2608041536","v":0.532},{"t":"2608041700","v":0.528},{"t":"2608041742","v":0.55},{"t":"2608041830","v":0.578},{"t":"2608041912","v":0.591},{"t":"2608042024","v":0.593},{"t":"2608042142","v":0.582},{"t":"2608042324","v":0.603},{"t":"2608050030","v":0.584},{"t":"2608050212","v":0.569},{"t":"2608050318","v":0.588},{"t":"2608050406","v":0.604},{"t":"2608050530","v":0.615},{"t":"2608050712","v":0.604},{"t":"2608050906","v":0.615},{"t":"2608051018","v":0.612},{"t":"2608051100","v":0.595}],
"notes":[{"label":"Normalization is done with respect to the mean flaring-class value"}]
},
"vconcat":[
{
"width":1550,"height":838.5,
"title":{"text":"NOAA / HARP Number = 14498,14500 / 13816\u00a0\u00a0\u00a0\u00a0\u00a0\u00a0AR-Location: N16W33","font":"DejaVu Serif","fontSize":39,"fontWeight":"normal","color":"#000","offset":-5},
"data":{"name":"bars","format":{"parse":{"t":"date:'%y%m%d%H%M'"}}},
"mark":{"type":"bar","width":33,"stroke":"#000","strokeWidth":2.9,"clip":true},
"encoding":{
"x":{"field":"t","type":"temporal","title":null,"scale":{"domain":["2026-07-27T01:32:00","2026-08-05T11:14:00"],"padding":0},"axis":{"format":"%d/%m-%H","values":["2026-07-28T00:00:00","2026-07-29T00:00:00","2026-07-30T00:00:00","2026-07-31T00:00:00","2026-08-01T00:00:00","2026-08-02T00:00:00","2026-08-03T00:00:00","2026-08-04T00:00:00","2026-08-05T00:00:00"]}},
"y":{"field":"f","type":"quantitative","title":"Fraction of Yes Flag","scale":{"domain":[0,1],"nice":false},"axis":{"values":[0,0.2,0.4,0.6,0.8,1],"format":".1f","titlePadding":12}},
"fill":{"datum":"Yes Fraction","scale":{"domain":["Yes Fraction"],"range":["#00BFFF"]},"legend":{"title":null,"orient":"none","legendX":1203,"legendY":16.7,"padding":13.5,"fillColor":"rgba(255,255,255,0.8)","strokeColor":"#ccc","cornerRadius":6,"symbolType":"M-2.83,-1H2.83V1H-2.83Z","symbolSize":576,"symbolOffset":22.3,"symbolStrokeColor":"#000","symbolStrokeWidth":2.9,"labelOffset":47}}
}
},
{
"width":1550,"height":840,
"encoding":{
"x":{"field":"t","type":"temporal","title":"Time (date/month-hour)","scale":{"domain":["2026-07-27T01:32:00","2026-08-05T11:14:00"]},"axis":{"format":"%d/%m-%H","titlePadding":6,"values":["2026-07-28T00:00:00","2026-07-29T00:00:00","2026-07-30T00:00:00","2026-07-31T00:00:00","2026-08-01T00:00:00","2026-08-02T00:00:00","2026-08-03T00:00:00","2026-08-04T00:00:00","2026-08-05T00:00:00"]}},
"y":{"field":"v","type":"quantitative","title":"Normalized feature value","scale":{"domain":[-0.0156,1.0767],"nice":false,"zero":false},"axis":{"values":[0,0.2,0.4,0.6,0.8,1],"format":".1f","titlePadding":12,"titleY":434}}
},
"layer":[
{"data":{"name":"jh","format":{"parse":{"t":"date:'%y%m%d%H%M'"}}},"mark":{"type":"circle","size":115,"opacity":1,"clip":true},"encoding":{"color":{"datum":"TOTUSJH","scale":{"domain":["TOTUSJH","TOTUSJZ","USFLUX","R_VALUE","TOTABSTWIST"],"range":["#1f77b4","#ff7f0e","#2ca02c","#d62728","#9467bd"]},"legend":{"title":null,"orient":"none","legendX":1156,"legendY":1576.7,"padding":13,"fillColor":"#fff","strokeColor":"#d5d5d5","cornerRadius":6,"symbolType":"circle","symbolSize":121,"symbolOffset":17,"labelOffset":42.2,"rowPadding":15,"labelColor":{"expr":"datum.label=='TOTUSJH'?'#1f77b4':datum.label=='TOTUSJZ'?'#ff7f0e':datum.label=='USFLUX'?'#2ca02c':datum.label=='R_VALUE'?'#d62728':'#9467bd'"}}}}},
{"data":{"name":"jz","format":{"parse":{"t":"date:'%y%m%d%H%M'"}}},"mark":{"type":"circle","size":115,"opacity":1,"clip":true},"encoding":{"color":{"datum":"TOTUSJZ"}}},
{"data":{"name":"flux","format":{"parse":{"t":"date:'%y%m%d%H%M'"}}},"mark":{"type":"circle","size":115,"opacity":1,"clip":true},"encoding":{"color":{"datum":"USFLUX"}}},
{"data":{"name":"rval","format":{"parse":{"t":"date:'%y%m%d%H%M'"}}},"mark":{"type":"circle","size":115,"opacity":1,"clip":true},"encoding":{"color":{"datum":"R_VALUE"}}},
{"data":{"name":"twist","format":{"parse":{"t":"date:'%y%m%d%H%M'"}}},"mark":{"type":"circle","size":115,"opacity":1,"clip":true},"encoding":{"color":{"datum":"TOTABSTWIST"}}}
]
},
{
"width":1550,"height":137.5,
"view":{"stroke":null},
"data":{"name":"notes"},
"layer":[
{"mark":{"type":"text","align":"left","baseline":"alphabetic","fontSize":36.1,"font":"DejaVu Serif","color":"#000"},"encoding":{"x":{"datum":160.6,"type":"quantitative","scale":{"domain":[215,1765],"nice":false,"zero":false},"axis":null},"y":{"datum":2120,"type":"quantitative","scale":{"domain":[2260,2122.5],"nice":false,"zero":false},"axis":null},"text":{"field":"label"}}},
{"data":{"values":[{"label":"*"}]},"mark":{"type":"text","align":"left","baseline":"alphabetic","fontSize":20,"font":"DejaVu Serif","color":"#000"},"encoding":{"x":{"datum":144,"type":"quantitative","scale":{"domain":[215,1765],"nice":false,"zero":false},"axis":null},"y":{"datum":2103,"type":"quantitative","scale":{"domain":[2260,2122.5],"nice":false,"zero":false},"axis":null},"text":{"field":"label"}}},
{"data":{"values":[{"label":"*"}]},"mark":{"type":"text","align":"center","baseline":"alphabetic","angle":270,"fontSize":20,"font":"DejaVu Serif","color":"#000"},"encoding":{"x":{"datum":105,"type":"quantitative","scale":{"domain":[215,1765],"nice":false,"zero":false},"axis":null},"y":{"datum":1282,"type":"quantitative","scale":{"domain":[2260,2122.5],"nice":false,"zero":false},"axis":null},"text":{"field":"label"}}},
{"data":{"values":[{"label":"Plot generation time: 2026.08.05_21:26:50 IST"}]},"mark":{"type":"text","align":"left","baseline":"alphabetic","fontSize":30.6,"font":"DejaVu Serif","color":"#000"},"encoding":{"x":{"datum":60.5,"type":"quantitative","scale":{"domain":[215,1765],"nice":false,"zero":false},"axis":null},"y":{"datum":2192.7,"type":"quantitative","scale":{"domain":[2260,2122.5],"nice":false,"zero":false},"axis":null},"text":{"field":"label"}}},
{"data":{"values":[{"label":"www.cessi.in"}]},"mark":{"type":"text","align":"left","baseline":"alphabetic","fontSize":34.7,"font":"DejaVu Serif","color":"#000"},"encoding":{"x":{"datum":1525,"type":"quantitative","scale":{"domain":[215,1765],"nice":false,"zero":false},"axis":null},"y":{"datum":2242,"type":"quantitative","scale":{"domain":[2260,2122.5],"nice":false,"zero":false},"axis":null},"text":{"field":"label"}}},
{"data":{"values":[{"label":"cessi"}]},"mark":{"type":"point","filled":true,"size":11025,"opacity":1,"color":{"gradient":"radial","stops":[{"offset":0,"color":"#fb9a1c"},{"offset":0.7,"color":"#f3800f"},{"offset":1,"color":"#e9660c"}]}},"encoding":{"x":{"datum":1647,"type":"quantitative","scale":{"domain":[215,1765],"nice":false,"zero":false},"axis":null},"y":{"datum":2153,"type":"quantitative","scale":{"domain":[2260,2122.5],"nice":false,"zero":false},"axis":null}}},
{"data":{"values":[{"label":"cessi"}]},"mark":{"type":"text","align":"center","baseline":"alphabetic","fontSize":33,"font":"DejaVu Serif","color":"#fff"},"encoding":{"x":{"datum":1647,"type":"quantitative","scale":{"domain":[215,1765],"nice":false,"zero":false},"axis":null},"y":{"datum":2166,"type":"quantitative","scale":{"domain":[2260,2122.5],"nice":false,"zero":false},"axis":null},"text":{"field":"label"}}}
]
}
]
}
